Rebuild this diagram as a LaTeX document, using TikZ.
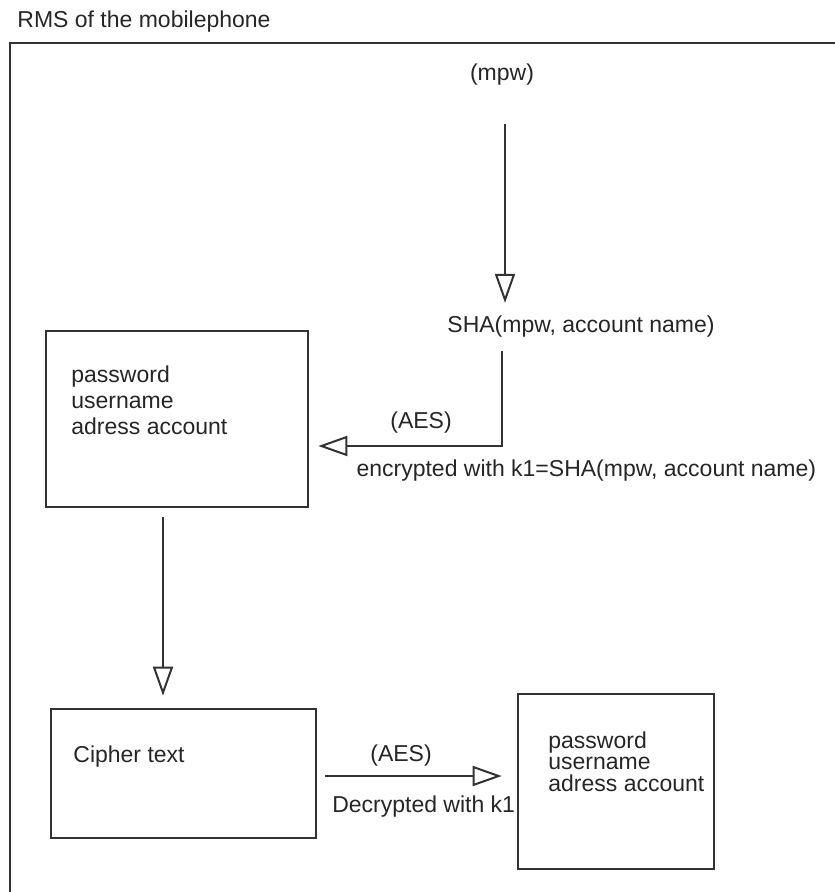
\documentclass[tikz,border=0pt]{standalone}
\usepackage{fontspec}
\setmainfont{Liberation Sans}
\usetikzlibrary{arrows.meta}

\begin{document}
\begin{tikzpicture}[x=0.5pt, y=-0.5pt,
    font=\fontsize{11.5}{13}\selectfont,
    box/.style={draw=black!80, line width=1.3pt},
    txt/.style={inner sep=0pt, align=left, text=black!85},
    link/.style={draw=black!80, line width=1pt,
      -{Triangle[open, length=14.5pt, width=10pt]}}]
  \useasboundingbox (0,0) rectangle (834,892);
  \node[txt, anchor=base west] (title) at (17,28) {RMS of the mobilephone};
  \draw[box] (10,43) rectangle (850,910);
  % key derivation
  \node[txt] (mpw) at (502,75) {(mpw)};
  \node[txt] (sha) at (581,327) {SHA(mpw, account name)};
  \coordinate (turn) at (502,446);
  % boxes
  \node[box, minimum width=131pt, minimum height=88pt] (plainbox) at (177,419) {};
  \node[txt, anchor=north west] (plaintxt) at (71,365) {password\\username\\adress account};
  \node[box, minimum width=132.5pt, minimum height=64.5pt] (cipher) at (183.5,773.5) {};
  \node[txt, anchor=north west] (ciphertxt) at (73,745) {Cipher text};
  \node[box, minimum width=98pt, minimum height=87.5pt] (plainout) at (616,781.5) {};
  \node[txt, anchor=north west, font=\fontsize{11.5}{10.75}\selectfont] (outtxt) at (548,731)
    {password\\username\\adress account};
  % arrows
  \draw[link, shorten <=19pt, shorten >=6.5pt] ([xshift=1.5pt]mpw.south) -- ([xshift=1.5pt]mpw.south |- sha.north);
  \draw[link, shorten <=6.5pt, shorten >=4.5pt] (sha.south -| turn) -- (turn) -- (turn -| plainbox.east)
    node[txt, pos=0.42, above=6pt] {(AES)}
    node[txt, pos=0.76, anchor=north west, yshift=-6.5pt] {encrypted with k1=SHA(mpw, account name)};
  \draw[link, shorten <=4.5pt, shorten >=6pt] ([xshift=-7pt]plainbox.south) -- ([xshift=-7pt]plainbox.south |- cipher.north);
  \draw[link, shorten <=4pt, shorten >=7.5pt] ([yshift=-1.25pt]cipher.east) -- ([yshift=-1.25pt]cipher.east -| plainout.west)
    node[txt, pos=0.42, above=4.5pt] {(AES)}
    node[txt, pos=0.07, anchor=north west, yshift=-9.5pt] {Decrypted with k1};
\end{tikzpicture}
\end{document}
